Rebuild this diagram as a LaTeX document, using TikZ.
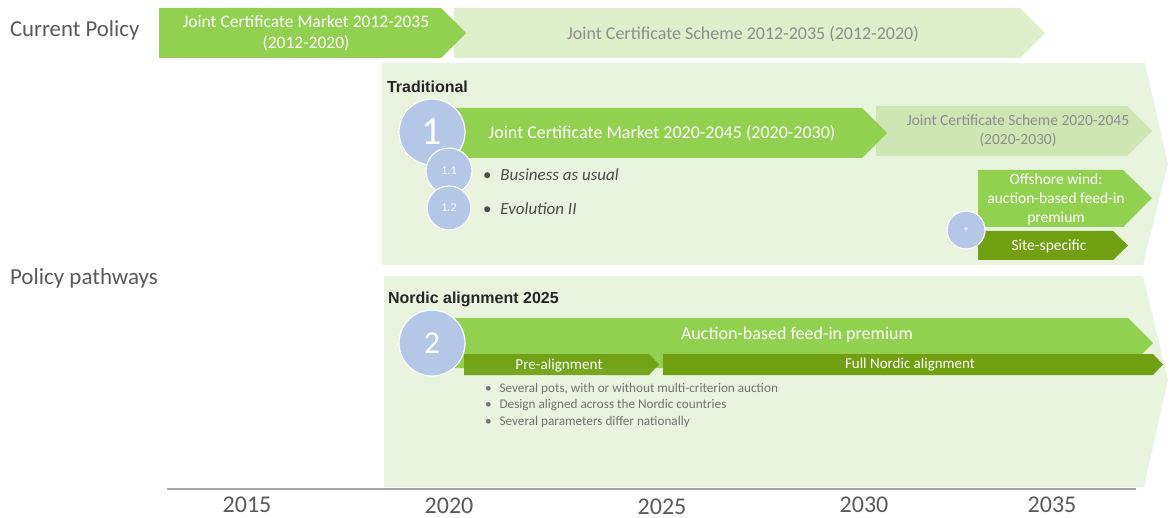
\documentclass[tikz,border=0pt]{standalone}
\usepackage{fontspec}
\setmainfont{Carlito}
\newfontfamily\titlefont{Liberation Sans}
\definecolor{cgreen}{HTML}{92D050}
\definecolor{clight}{HTML}{DDEFCB}
\definecolor{cpanel}{HTML}{E8F4DD}
\definecolor{cscheme}{HTML}{CDE6B4}
\definecolor{cdark}{HTML}{70A012}
\definecolor{ccirc}{HTML}{B4C7E7}
\definecolor{cgraytxt}{HTML}{595959}
\definecolor{clighttxt}{HTML}{8C8C8C}
\definecolor{caxis}{HTML}{A6A6A6}
\newcommand\fs[2]{\fontsize{#1}{#2}\selectfont}
\begin{document}
\begin{tikzpicture}[x=1pt,y=-1pt,
  every node/.style={inner sep=0pt,outer sep=0pt},
  bartext/.style={text=white,align=center},
  schemetext/.style={text=clighttxt,align=center},
  circ/.style={circle,fill=ccirc,draw=white,line width=1.2pt,text=white},
  sidelabel/.style={anchor=west,text=cgraytxt},
  title/.style={anchor=west,text=black!85,font=\titlefont\bfseries\fs{16}{18}},
  year/.style={text=cgraytxt,font=\fs{24}{26}},
  bul/.style={anchor=west,text=black!70,font=\itshape\fs{17}{20}},
  nbul/.style={anchor=west,text=black!55,font=\fs{13.2}{16.5},align=left}
]
\useasboundingbox (0,0) rectangle (1174,518);

% panels
\fill[cpanel] (382,63) -- (1145,63) -- (1168,164) -- (1143,265) -- (382,265) -- cycle;
\fill[cpanel] (384,276) -- (1143,276) -- (1168,380) -- (1144,487) -- (384,487) -- cycle;

% side labels
\node[sidelabel,font=\fs{22.8}{26}] (curpol) at (10,30) {Current Policy};
\node[sidelabel,font=\fs{23}{26}] (pathw) at (10,278) {Policy pathways};

% current policy bars
\fill[clight] (454,8) -- (1020,8) -- (1045,33) -- (1020,58) -- (454,58) -- cycle;
\node[schemetext,font=\fs{18}{20}] (cs1) at (743,34) {Joint Certificate Scheme 2012-2035 (2012-2020)};
\fill[cgreen] (159,8) -- (441,8) -- (466,33) -- (441,58) -- (159,58) -- cycle;
\node[bartext,font=\fs{17.5}{21.5}] (cm1) at (306,33) {Joint Certificate Market 2012-2035\\(2012-2020)};

% traditional
\node[title] (trad) at (387,87) {Traditional};
\fill[cscheme] (876,106) -- (1127,106) -- (1152,131) -- (1127,156) -- (876,156) -- cycle;
\node[schemetext,font=\fs{15.5}{19}] (cs2) at (1018,131) {Joint Certificate Scheme 2020-2045\\(2020-2030)};
\fill[cgreen] (440,108) -- (862,108) -- (887,133) -- (862,158) -- (440,158) -- cycle;
\node[bartext,font=\fs{18}{20}] (cm2) at (662,133) {Joint Certificate Market 2020-2045 (2020-2030)};
\node[circ,minimum size=66pt,font=\fs{40}{40}] (c1) at (432,132) {1};
\node[circ,minimum size=46pt,font=\fs{12}{12}] (c11) at (449,171) {1.1};
\node[circ,minimum size=44pt,font=\fs{12}{12}] (c12) at (449,208) {1.2};
\node[bul] (b11) at (483,175) {\upshape\textbullet\hspace{9pt}\itshape Business as usual};
\node[bul] (b12) at (483,209) {\upshape\textbullet\hspace{9pt}\itshape Evolution II};

% offshore wind
\fill[cgreen] (978,170) -- (1123,170) -- (1152,198) -- (1123,227) -- (978,227) -- cycle;
\node[bartext,font=\fs{15.5}{19}] (off) at (1056,199) {Offshore wind:\\auction-based feed-in\\premium};
\fill[cdark] (978,231) -- (1113,231) -- (1128,245.5) -- (1113,260) -- (978,260) -- cycle;
\node[bartext,font=\fs{15.5}{17}] (site) at (1049,246) {Site-specific};
\node[circ,minimum size=38pt,font=\fs{10}{10}] (plus) at (966,230) {+};

% nordic
\node[title] (nord) at (388,299) {Nordic alignment 2025};
\fill[cgreen] (440,318) -- (1128,318) -- (1153,343) -- (1128,368) -- (440,368) -- cycle;
\node[bartext,font=\fs{18}{20}] (auct) at (797,335) {Auction-based feed-in premium};
\fill[cdark] (663,354) -- (1153,354) -- (1163,364.5) -- (1153,375) -- (663,375) -- cycle;
\node[bartext,font=\fs{15}{16}] (full) at (910,365) {Full Nordic alignment};
\fill[cdark,opacity=0.92] (464,354) -- (649,354) -- (659,364.5) -- (649,375) -- (464,375) -- cycle;
\node[bartext,font=\fs{15.2}{16}] (pre) at (559,366) {Pre-alignment};
\node[circ,minimum size=66pt,font=\fs{32}{32}] (c2) at (432,343) {2};
\node[nbul] (nb) at (485,405) {\textbullet\hspace{8pt}Several pots, with or without multi-criterion auction\\
\textbullet\hspace{8pt}Design aligned across the Nordic countries\\
\textbullet\hspace{8pt}Several parameters differ nationally};

% axis
\coordinate (axl) at (167,489);
\coordinate (axr) at (1136,489);
\draw[caxis,line width=2pt] (axl) -- (axr);
\node[year] (y15) at (247,505) {2015};
\node[year] (y20) at (449,505.5) {2020};
\node[year] (y25) at (662,506.5) {2025};
\node[year] (y30) at (864,505) {2030};
\node[year] (y35) at (1052,505) {2035};
\end{tikzpicture}
\end{document}
